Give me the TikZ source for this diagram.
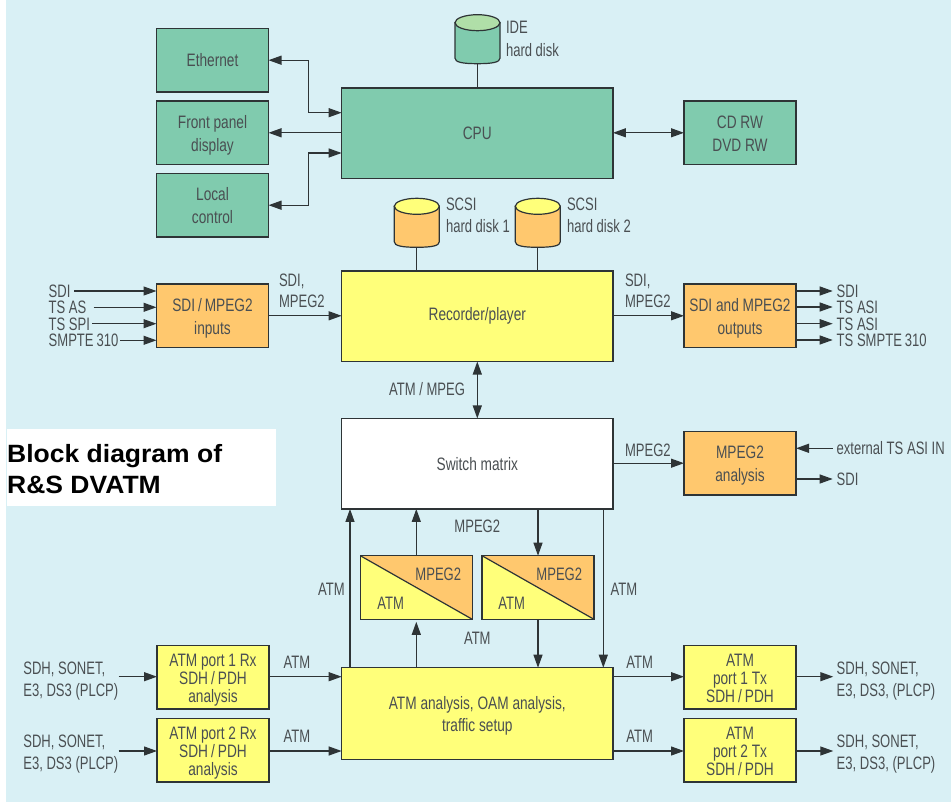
\documentclass[tikz,border=0pt]{standalone}
\usepackage{fontspec}
\setmainfont[FakeStretch=0.76]{Liberation Sans}
\newfontfamily\lblfont[FakeStretch=0.725]{Liberation Sans}
\newfontfamily\titlefont[FakeStretch=1.06]{Liberation Sans}
\usetikzlibrary{arrows.meta}
\definecolor{bgc}{HTML}{D9F0F5}
\definecolor{grn}{HTML}{80CBAE}
\definecolor{grnl}{HTML}{B0DFA8}
\definecolor{org}{HTML}{FFC86E}
\definecolor{yel}{HTML}{FFFF7A}
\definecolor{lnc}{HTML}{2E3436}
\definecolor{txc}{HTML}{4A4F52}
\tikzset{
 ln/.style={draw=lnc,line width=1.2pt},
 to/.style={ln,-{Stealth[length=13pt,width=9pt,inset=0pt]}},
 both/.style={ln,{Stealth[length=13pt,width=9pt,inset=0pt]}-{Stealth[length=13pt,width=9pt,inset=0pt]}},
 box/.style={ln,inner sep=0pt,outer sep=0pt,align=center,text=txc,font=\fontsize{18}{22.5}\selectfont},
 sbox/.style={box,minimum width=112pt,minimum height=63.5pt},
 twol/.style={text height=40.5pt,text depth=4pt},
 tbox/.style={sbox,font=\fontsize{18}{18}\selectfont,text height=54pt,text depth=4pt},
 wbox/.style={box,minimum width=271.3pt,minimum height=90.5pt},
 lbl/.style={inner sep=0pt,outer sep=0pt,text=txc,font=\lblfont\fontsize{18}{22}\selectfont,text height=13pt,text depth=0pt},
 lw/.style={lbl,anchor=west},
 ttl/.style={inner sep=0pt,anchor=base west,font=\titlefont\fontsize{25}{31}\selectfont\bfseries},
}
\newcommand{\drawdisk}[5]{%
 \node[minimum width=45pt,minimum height=49pt,inner sep=0pt,outer sep=0pt] (#1) at (#2,#3) {};
 \begin{scope}[shift={(#1.center)}]
 \draw[ln,fill=#4] (-22.5,-16.5) -- (-22.5,19) .. controls (-22.5,23) and (-15,24.5) .. (0,24.5) .. controls (15,24.5) and (22.5,23) .. (22.5,19) -- (22.5,-16.5) -- cycle;
 \draw[ln,fill=#5] (0,-16.5) ellipse [x radius=22.5pt,y radius=8pt];
 \end{scope}}
\newcommand{\convbox}[2]{%
 \node[sbox,fill=yel,minimum height=63.6pt] (#1) at (#2,587.5) {};
 \fill[org] (#1.north west) -- (#1.north east) -- (#1.south east) -- cycle;
 \draw[ln] (#1.north west) -- (#1.south east);
 \draw[ln] (#1.north west) rectangle (#1.south east);}
\begin{document}
\begin{tikzpicture}[x=1pt,y=-1pt]
\useasboundingbox (0,0) rectangle (951,802);
\fill[white] (0,0) rectangle (951,802);
\fill[bgc] (6,0) rectangle (951,802);
% title
\fill[white] (7,429) rectangle (276,506);
\node[ttl] (title1) at (7,462) {Block diagram of};
\node[ttl] (title2) at (7,493) {R\&S DVATM};
% top
\node[sbox,fill=grn] (eth) at (212.5,60.2) {Ethernet};
\node[sbox,twol,fill=grn] (front) at (212.5,132.8) {Front panel\\display};
\node[sbox,twol,fill=grn] (local) at (212.5,205.2) {Local\\control};
\node[wbox,fill=grn] (cpu) at (477.3,133.3) {CPU};
\node[sbox,twol,fill=grn] (cd) at (740,132.8) {CD RW\\DVD RW};
\drawdisk{ide}{477.5}{39.2}{grn}{grnl}
\drawdisk{scsia}{416.8}{222.8}{org}{yel}
\drawdisk{scsib}{537.8}{222.8}{org}{yel}
\node[lw] (idel) at (506,27.5) {IDE};
\node[lw] (idem) at (506,50) {hard disk};
\node[lw] (sal) at (446,204.5) {SCSI};
\node[lw] (sam) at (446,226.5) {hard disk 1};
\node[lw] (sbl) at (567,204.5) {SCSI};
\node[lw] (sbm) at (567,226.5) {hard disk 2};
% middle
\node[wbox,fill=yel] (rec) at (477.3,316.3) {Recorder/player};
\node[sbox,twol,fill=org] (inp) at (212.5,315.8) {SDI\,/\,MPEG2\\inputs};
\node[sbox,twol,fill=org] (outp) at (740,315.8) {SDI and MPEG2\\outputs};
\node[wbox,fill=white] (sw) at (477.3,463.7) {Switch matrix};
\node[sbox,twol,fill=org] (ana) at (740,463.2) {MPEG2\\analysis};
\convbox{cva}{416.3}
\convbox{cvb}{538}
\node[wbox,twol,fill=yel,minimum height=91.6pt] (atm) at (477.3,713.5) {ATM analysis, OAM analysis,\\traffic setup};
\node[tbox,fill=yel] (rxa) at (213,677.2) {ATM port 1 Rx\\SDH\,/\,PDH\\analysis};
\node[tbox,fill=yel] (rxb) at (213,750.3) {ATM port 2 Rx\\SDH\,/\,PDH\\analysis};
\node[tbox,fill=yel] (txa) at (740,677.2) {ATM\\port 1 Tx\\SDH\,/\,PDH};
\node[tbox,fill=yel] (txb) at (740,750.3) {ATM\\port 2 Tx\\SDH\,/\,PDH};
% labels
\node[lw] (i1) at (48.7,291) {SDI};
\node[lw] (i2) at (48.7,307.3) {TS AS};
\node[lw] (i3) at (48.7,323.7) {TS SPI};
\node[lw] (i4) at (48.7,340.3) {SMPTE\,310};
\node[lw] (l1) at (279,280) {SDI,};
\node[lw] (l2) at (279,300.7) {MPEG2};
\node[lw] (l3) at (625,280) {SDI,};
\node[lw] (l4) at (625,300.7) {MPEG2};
\node[lw] (o1) at (836.7,290.6) {SDI};
\node[lw] (o2) at (836.7,307.3) {TS ASI};
\node[lw] (o3) at (836.7,323.7) {TS ASI};
\node[lw] (o4) at (836.7,340.3) {TS SMPTE\,310};
\node[lbl] (l5) at (427,388.7) {ATM / MPEG};
\node[lw] (l6) at (625,450) {MPEG2};
\node[lw] (e1) at (836.7,448.3) {external TS ASI IN};
\node[lw] (e2) at (836.7,479) {SDI};
\node[lbl] (l7) at (477.3,526) {MPEG2};
\node[lbl] (l8) at (477.3,637.7) {ATM};
\node[lbl] (l9) at (331.5,589) {ATM};
\node[lbl] (l10) at (624,589) {ATM};
\node[lbl] (m1) at (438.3,574.3) {MPEG2};
\node[lbl] (m2) at (390.7,602.7) {ATM};
\node[lbl] (m3) at (559.3,574.3) {MPEG2};
\node[lbl] (m4) at (511.7,602.7) {ATM};
\node[lbl] (a1) at (297,662.3) {ATM};
\node[lbl] (a2) at (297,735.7) {ATM};
\node[lbl] (a3) at (639.7,662.3) {ATM};
\node[lbl] (a4) at (639.7,735.7) {ATM};
\node[lw] (s1) at (23.3,668.3) {SDH, SONET,};
\node[lw] (s2) at (23.3,690.3) {E3, DS3 (PLCP)};
\node[lw] (s3) at (23.3,741) {SDH, SONET,};
\node[lw] (s4) at (23.3,763) {E3, DS3 (PLCP)};
\node[lw] (s5) at (836.7,668.3) {SDH, SONET,};
\node[lw] (s6) at (836.7,690.3) {E3, DS3, (PLCP)};
\node[lw] (s7) at (836.7,741) {SDH, SONET,};
\node[lw] (s8) at (836.7,763) {E3, DS3, (PLCP)};
% free-end coordinates
\coordinate (ca) at (308.3,112.7);
\coordinate (cb) at (308.3,153);
\foreach \n/\x/\y in {fi1/74/291,fi2/93.7/307.3,fi3/92.3/323.7,fi4/120/340.3,fo1/832.7/291,fo2/832.7/307,fo3/832.7/323.7,fo4/832.7/340,fe1/832.7/448.3,fe2/832.7/479,frxa/118.7/676.7,frxb/118.7/751,ftxa/833.3/676.7,ftxb/833.3/751}
  \coordinate (\n) at (\x,\y);
% connectors
\draw[both] (eth.east) -| (ca) -- (ca -| cpu.west);
\draw[to] (cpu.west |- front.east) -- (front.east);
\draw[both] (local.east) -| (cb) -- (cb -| cpu.west);
\draw[both] (cpu.east |- cd.west) -- (cd.west);
\draw[ln] (ide.south) -- (ide.south |- cpu.north);
\draw[ln] (scsia.south) -- (scsia.south |- rec.north);
\draw[ln] (scsib.south) -- (scsib.south |- rec.north);
\foreach \n in {fi1,fi2,fi3,fi4} \draw[to] (\n) -- (\n -| inp.west);
\foreach \n in {fo1,fo2,fo3,fo4} \draw[to] (\n -| outp.east) -- (\n);
\draw[to] (inp.east) -- (inp.east -| rec.west);
\draw[to] (rec.east |- outp.west) -- (outp.west);
\draw[both] (rec.south) -- (sw.north);
\draw[to] (sw.east |- ana.west) -- (ana.west);
\draw[to] (fe1) -- (fe1 -| ana.east);
\draw[to] (fe2 -| ana.east) -- (fe2);
\draw[to] (atm.north -| 350,0) -- (sw.south -| 350,0);
\draw[to] (cva.north) -- (cva.north |- sw.south);
\draw[to] (cvb.north |- sw.south) -- (cvb.north);
\draw[to] (603.3,0 |- sw.south) -- (603.3,0 |- atm.north);
\draw[to] (cva.north |- atm.north) -- ([yshift=-2.5pt]cva.south);
\draw[to] (cvb.south) -- (cvb.south |- atm.north);
\draw[to] (frxa) -- (frxa -| rxa.west);
\draw[to] (frxb) -- (frxb -| rxb.west);
\draw[to] (rxa.east |- frxa) -- (atm.west |- frxa);
\draw[to] (rxb.east |- frxb) -- (atm.west |- frxb);
\draw[to] (atm.east |- ftxa) -- (txa.west |- ftxa);
\draw[to] (atm.east |- ftxb) -- (txb.west |- ftxb);
\draw[to] (txa.east |- ftxa) -- (ftxa);
\draw[to] (txb.east |- ftxb) -- (ftxb);
\end{tikzpicture}
\end{document}
